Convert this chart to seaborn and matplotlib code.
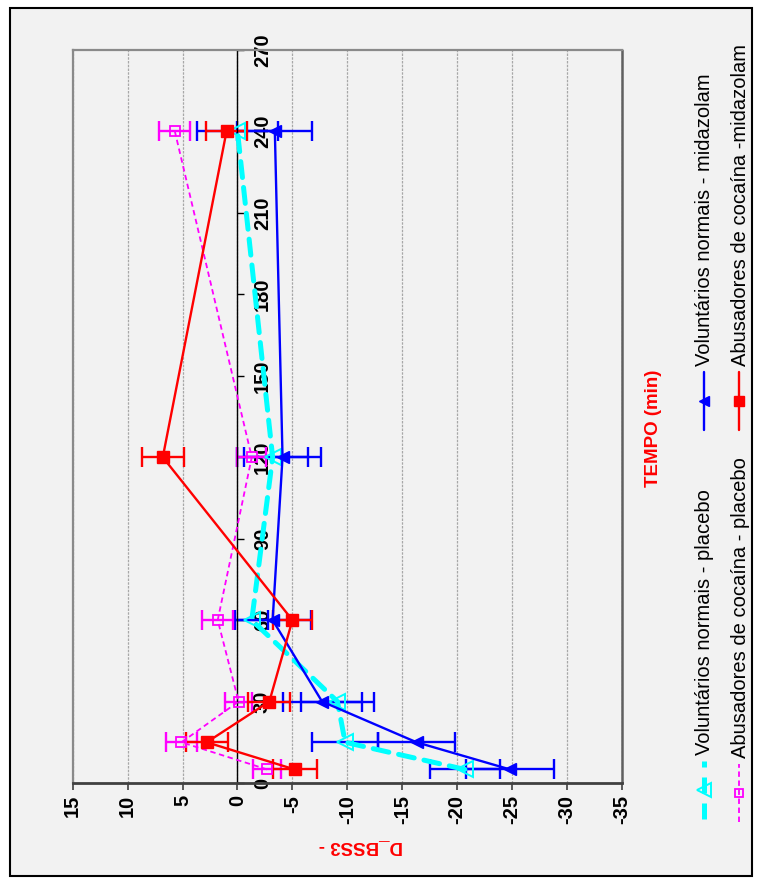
import matplotlib
matplotlib.use("Agg")
import matplotlib.pyplot as plt
import seaborn as sns
import pandas as pd
from matplotlib.lines import Line2D
from matplotlib.patches import Rectangle

# ---- data ----
tempo = [5, 15, 30, 60, 120, 240]
vn_placebo = [-20.7, -9.8, -9.1, -1.3, -3.2, 0.0]
vn_placebo_err = [3.2, 3.0, 3.3, 1.5, 3.2, 3.7]
vn_midaz = [-24.8, -16.3, -7.7, -3.2, -4.1, -3.4]
vn_midaz_err = [4.0, 3.5, 3.6, 3.5, 3.5, 3.4]
ac_placebo = [-2.7, 5.1, -0.1, 1.8, -1.3, 5.7]
ac_placebo_err = [1.3, 1.4, 1.2, 1.4, 1.3, 1.4]
ac_midaz = [-5.2, 2.8, -2.9, -5.0, 6.8, 1.0]
ac_midaz_err = [2.0, 1.9, 1.9, 1.8, 1.9, 1.9]

series_names = ["Voluntários normais - placebo",
                "Voluntários normais - midazolam",
                "Abusadores de cocaína - placebo",
                "Abusadores de cocaína -midazolam"]
time_ticks = [0, 30, 60, 90, 120, 150, 180, 210, 240, 270]
value_ticks = [15, 10, 5, 0, -5, -10, -15, -20, -25, -30, -35]
x_title = "TEMPO (min)"
y_title = "D_BSS3 -"

sns.set_theme(style="white")
plt.rcParams["font.family"] = ["Liberation Sans", "DejaVu Sans"]

W, H = 760, 884
fig = plt.figure(figsize=(W / 100, H / 100), dpi=100, facecolor="white")

def fx(px):
    return px / W

def fy(py):
    return 1 - py / H

# outer chart frame
fig.patches.append(Rectangle((fx(10), fy(876)), fx(752) - fx(10), fy(8) - fy(876),
                             transform=fig.transFigure, facecolor="#f2f2f2",
                             edgecolor="black", lw=1.5, zorder=-5))

L, R, T, B = 72.7, 622, 50, 783
ax = fig.add_axes([fx(L), fy(B), fx(R) - fx(L), fy(T) - fy(B)])
ax.set_zorder(1)
ax.set_facecolor("#f2f2f2")
ax.set_xlim(15, -35)
ax.set_ylim(0, 270)

# data frame for seaborn
rows = []
for name, vals in zip(series_names, [vn_placebo, vn_midaz, ac_placebo, ac_midaz]):
    for t, v in zip(tempo, vals):
        rows.append({"serie": name, "tempo": t, "valor": v})
df = pd.DataFrame(rows)

# error bars (first, below the lines)
err_specs = [
    (vn_placebo, vn_placebo_err, "#0000ff"),
    (vn_midaz, vn_midaz_err, "#0000ff"),
    (ac_placebo, ac_placebo_err, "#ff00ff"),
    (ac_midaz, ac_midaz_err, "#ff0000"),
]
for vals, err, col in err_specs:
    ax.errorbar(vals, tempo, xerr=err, fmt="none", ecolor=col, elinewidth=1.7,
                capsize=7, capthick=1.7, zorder=2)

styles = {
    series_names[0]: dict(color="#00ffff", lw=3.6, marker="<", ms=12, mfc="none",
                          mec="#00ffff", mew=1.4, dashes=(3.2, 2.0)),
    series_names[1]: dict(color="#0000ff", lw=1.7, marker="<", ms=9, mfc="#0000ff",
                          mec="#0000ff", mew=1.0, dashes=None),
    series_names[2]: dict(color="#ff00ff", lw=1.3, marker="s", ms=7.5, mfc="none",
                          mec="#ff00ff", mew=1.3, dashes=(3.0, 2.0)),
    series_names[3]: dict(color="#ff0000", lw=1.7, marker="s", ms=8, mfc="#ff0000",
                          mec="#ff0000", mew=1.0, dashes=None),
}

for name in series_names:
    st = styles[name]
    sub = df[df["serie"] == name]
    n_before = len(ax.lines)
    sns.lineplot(data=sub, x="valor", y="tempo", sort=False, estimator=None,
                 orient="y", color=st["color"], lw=st["lw"], marker=st["marker"],
                 markersize=st["ms"], markerfacecolor=st["mfc"],
                 markeredgecolor=st["mec"], markeredgewidth=st["mew"],
                 legend=False, ax=ax, zorder=3)
    line = ax.lines[n_before]
    if st["dashes"] is not None:
        line.set_dashes(st["dashes"])
        if name == series_names[0]:
            line.set_dash_capstyle("round")

ax.set_xlabel("")
ax.set_ylabel("")

# spines / axes
for s in ["left", "top"]:
    ax.spines[s].set_color("#8a8a8a")
    ax.spines[s].set_linewidth(1.6)
ax.spines["bottom"].set_color("#404040")
ax.spines["bottom"].set_linewidth(2.0)
ax.spines["right"].set_position(("data", 0))
ax.spines["right"].set_color("black")
ax.spines["right"].set_linewidth(1.0)
ax.axvline(-35, color="#606060", lw=1.8, zorder=1, clip_on=False)

TICK_FS = 14.5
ax.set_xticks(value_ticks)
ax.set_xticklabels([str(v) for v in value_ticks], fontsize=TICK_FS, fontweight="bold",
                   color="black", rotation=90)
ax.tick_params(axis="x", bottom=True, direction="out", length=5, width=1.2,
               color="#404040", pad=3.5)

ax.yaxis.tick_right()
ax.set_yticks(time_ticks)
ax.set_yticklabels([str(t) for t in time_ticks], fontsize=TICK_FS, fontweight="bold",
                   color="black", rotation=90, va="center")
ax.tick_params(axis="y", right=True, left=False, direction="out", length=5,
               width=1.0, color="black", pad=6)

ax.xaxis.grid(True, color="#a8a8a8", lw=0.9, ls=(0, (2, 1)))
ax.yaxis.grid(False)
ax.set_axisbelow(True)

# axis titles
fig.text(fx(653), fy(428), x_title, color="#ff0000", fontsize=13.5,
         fontweight="bold", rotation=90, ha="center", va="center")
fig.text(fx(361), fy(846), y_title, color="#ff0000", fontsize=13.5,
         fontweight="bold", rotation=180, ha="center", va="center")

# legend (manual, rotated)
LEG_FS = 14.5
leg = [
    (series_names[0], 704, 755),
    (series_names[1], 704, 366),
    (series_names[2], 739, 758),
    (series_names[3], 739, 366),
]
for name, xc, ystart in leg:
    st = styles[name]
    y0, y1 = ystart + 6, ystart + 64
    ln = Line2D([fx(xc), fx(xc)], [fy(y1), fy(y0)], transform=fig.transFigure,
                color=st["color"], lw=st["lw"])
    if st["dashes"] is not None:
        ln.set_dashes(st["dashes"])
    fig.add_artist(ln)
    mk = Line2D([fx(xc)], [fy((y0 + y1) / 2)], transform=fig.transFigure,
                marker=st["marker"], ms=st["ms"] * 0.85, mfc=st["mfc"], mec=st["mec"],
                mew=st["mew"], lw=0)
    fig.add_artist(mk)
    fig.text(fx(xc + 1), fy(ystart), name, fontsize=LEG_FS, color="black",
             rotation=90, rotation_mode="anchor", ha="left", va="center")

fig.savefig("out.png", dpi=100, facecolor="white")
